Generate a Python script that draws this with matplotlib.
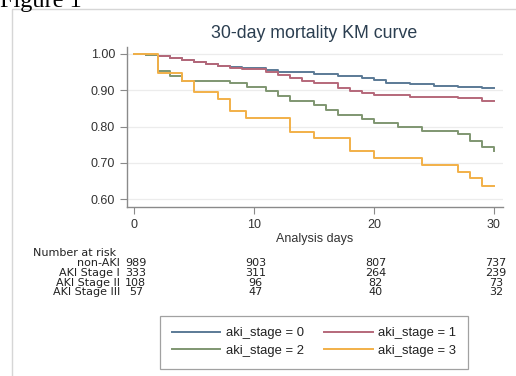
import matplotlib
matplotlib.use("Agg")
import matplotlib.pyplot as plt
from matplotlib.patches import Rectangle
from matplotlib.transforms import blended_transform_factory

plt.rcParams['font.family'] = ['Liberation Sans', 'DejaVu Sans']

# ---- data ----
blue_t = [0, 1, 2, 3, 4, 5, 6, 7, 8, 9, 11, 12, 15, 17, 19, 20, 21, 23, 25, 27, 29, 30]
blue_s = [1.0, 0.997, 0.994, 0.988, 0.982, 0.979, 0.973, 0.968, 0.964, 0.960, 0.956, 0.951,
          0.946, 0.940, 0.934, 0.928, 0.921, 0.916, 0.913, 0.910, 0.905, 0.905]

red_t = [0, 1, 2, 3, 4, 5, 6, 7, 8, 9, 11, 12, 13, 14, 15, 17, 18, 19, 20, 23, 27, 29, 30]
red_s = [1.0, 0.997, 0.994, 0.988, 0.982, 0.978, 0.972, 0.967, 0.962, 0.958, 0.951, 0.942,
         0.933, 0.926, 0.919, 0.905, 0.899, 0.893, 0.887, 0.882, 0.878, 0.869, 0.869]

green_t = [0, 1, 2, 3, 4, 8, 9.4, 11, 12, 13, 15, 16, 17, 19, 20, 22, 24, 27, 28, 29, 30]
green_s = [1.0, 0.996, 0.954, 0.940, 0.926, 0.919, 0.908, 0.899, 0.883, 0.871, 0.859, 0.846,
           0.831, 0.820, 0.810, 0.799, 0.789, 0.779, 0.760, 0.744, 0.732]

orange_t = [0, 2, 4, 5, 7, 8, 9.3, 13, 15, 18, 20, 24, 27, 28, 29, 30]
orange_s = [1.0, 0.947, 0.925, 0.895, 0.877, 0.842, 0.823, 0.786, 0.768, 0.733, 0.714,
            0.694, 0.676, 0.657, 0.637, 0.637]

series_labels = ["aki_stage = 0", "aki_stage = 1", "aki_stage = 2", "aki_stage = 3"]
risk_groups = ["non-AKI", "AKI Stage I", "AKI Stage II", "AKI Stage III"]
risk_days = [0, 10, 20, 30]
risk_counts = [[989, 903, 807, 737],
               [333, 311, 264, 239],
               [108, 96, 82, 73],
               [57, 47, 40, 32]]
yticks = [0.60, 0.70, 0.80, 0.90, 1.00]
xticks = [0, 10, 20, 30]

colors = ['#5b7a96', '#b5687a', '#7f9671', '#f2b048']

W, H = 516, 376
fig = plt.figure(figsize=(W / 100, H / 100), dpi=100)
fig.patch.set_facecolor('white')

# panel border
fig.patches.append(Rectangle((12 / W, -0.01), 1.0, 1 - 9 / H + 0.01,
                             transform=fig.transFigure, facecolor='none',
                             edgecolor='#d6d6d6', lw=1.0))

# "Figure 1" caption (cut at top)
fig.text(0.0, 1 - 7 / H, "Figure 1", family='Liberation Serif', fontsize=17.5,
         va='baseline', ha='left', color='black')

ax = fig.add_axes([127 / W, 1 - 206.7 / H, (503 - 127) / W, (206.7 - 46.7) / H])
for t, s, c, lab in zip([blue_t, red_t, green_t, orange_t],
                        [blue_s, red_s, green_s, orange_s], colors, series_labels):
    ax.step(t, s, where='post', color=c, lw=1.4, label=lab)

ax.set_xlim(-0.58, 30.75)
ax.set_ylim(0.579, 1.020)
ax.set_yticks(yticks)
ax.set_yticklabels([f"{v:.2f}" for v in yticks])
ax.set_xticks(xticks)
ax.grid(axis='y', color='#ececec', lw=0.9)
ax.set_axisbelow(True)
for sp in ['top', 'right']:
    ax.spines[sp].set_visible(False)
for sp in ['left', 'bottom']:
    ax.spines[sp].set_color('#8a8a8a')
    ax.spines[sp].set_linewidth(1.0)
ax.tick_params(axis='both', colors='#8a8a8a', labelcolor='#333333', labelsize=9,
               length=5, width=0.8)
ax.tick_params(axis='x', pad=4)
ax.set_xlabel("Analysis days", fontsize=9, color='#333333', labelpad=1)

fig.text(314 / W, 1 - 33 / H, "30-day mortality KM curve", ha='center', va='center',
         fontsize=12.8, color='#2b3e50')

# number at risk table
tr = blended_transform_factory(ax.transData, fig.transFigure)
fs_tab = 8.0
tab_font = ['DejaVu Sans']
fig.text(33 / W, 1 - 253.5 / H, "Number at risk", ha='left', va='center',
         fontsize=fs_tab, color='#222222', family=tab_font)
row_y = [263.5, 273.0, 282.5, 292.0]
for g, counts, yy in zip(risk_groups, risk_counts, row_y):
    fig.text(120 / W, 1 - yy / H, g, ha='right', va='center', fontsize=fs_tab,
             color='#222222', family=tab_font)
    for d, n in zip(risk_days, counts):
        ax.text(d + 0.15, 1 - yy / H, str(n), transform=tr, ha='center', va='center',
                fontsize=fs_tab, color='#222222', family=tab_font)

handles, labels = ax.get_legend_handles_labels()
order = [0, 2, 1, 3]  # row-wise: 0,1 / 2,3
leg = fig.legend([handles[i] for i in order], [labels[i] for i in order], ncol=2,
                 loc='center', bbox_to_anchor=(314 / W, 1 - 342 / H), fontsize=9.4,
                 frameon=True, fancybox=False, edgecolor='#8a8a8a',
                 handlelength=3.7, handletextpad=0.4, columnspacing=1.6,
                 labelspacing=0.4, borderpad=0.9, borderaxespad=0)
leg.get_frame().set_linewidth(0.9)
for txt in leg.get_texts():
    txt.set_color('#222222')

fig.savefig("out.png", dpi=100)
